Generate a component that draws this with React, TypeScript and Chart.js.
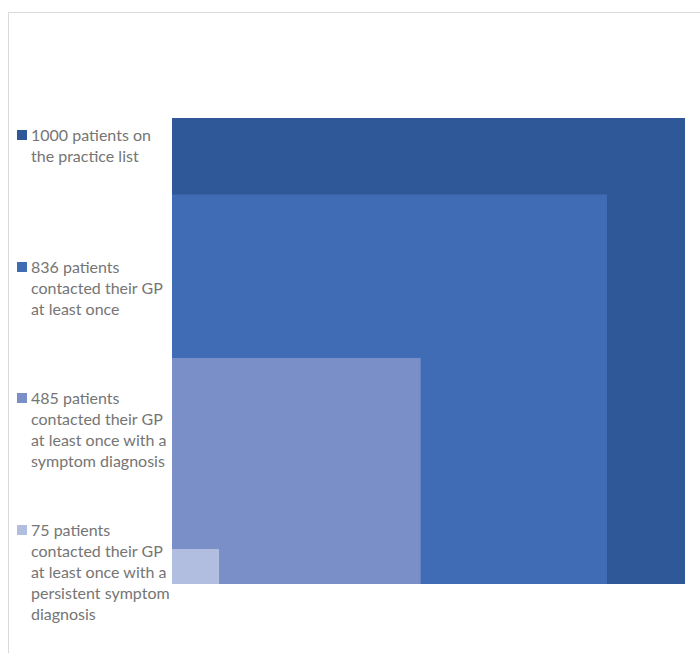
import React, { useEffect, useRef } from "react";
import { Chart, registerables } from "chart.js";

Chart.register(...registerables);

// Patient counts: each square's height is its count on a 0–1000 scale
const counts = [1000, 836, 485, 75];
// Horizontal extent of each square on the same 0–1000 scale
const widths = [1000, 848, 485, 92];
const legendLines = [
  ["1000 patients on", "the practice list"],
  ["836 patients", "contacted their GP", "at least once"],
  ["485 patients", "contacted their GP", "at least once with a", "symptom diagnosis"],
  ["75 patients", "contacted their GP", "at least once with a", "persistent symptom", "diagnosis"],
];
const colors = ["#2F5899", "#3F6CB4", "#7A8FC7", "#B2BEDF"];
// vertical centre of each legend entry's first line
const legendTops = [135, 267, 398, 530];

export default function App() {
  const canvasRef = useRef<HTMLCanvasElement | null>(null);

  useEffect(() => {
    const canvas = canvasRef.current;
    if (!canvas) return;
    const chart = new Chart(canvas, {
      type: "scatter",
      data: {
        datasets: counts.map((c, i) => ({
          label: legendLines[i].join(" "),
          data: [
            { x: 0, y: c },
            { x: widths[i], y: c },
          ],
          showLine: true,
          fill: "origin",
          backgroundColor: colors[i],
          borderColor: "rgba(0,0,0,0)",
          borderWidth: 0,
          pointRadius: 0,
          pointHoverRadius: 0,
          tension: 0,
          // larger squares drawn first so the smaller ones sit on top
          order: counts.length - i,
        })),
      },
      options: {
        animation: false,
        responsive: true,
        maintainAspectRatio: false,
        events: [],
        layout: { padding: 0 },
        plugins: {
          legend: { display: false },
          tooltip: { enabled: false },
          title: { display: false },
        },
        scales: {
          x: { type: "linear", min: 0, max: 1000, display: false },
          y: { type: "linear", min: 0, max: 1000, display: false },
        },
      },
    });
    return () => chart.destroy();
  }, []);

  return (
    <div
      style={{
        position: "fixed",
        left: 8,
        top: 12,
        right: -10,
        bottom: -10,
        borderLeft: "1px solid #d9d9d9",
        borderTop: "1px solid #d9d9d9",
        borderRight: "1px solid #d9d9d9",
        background: "#fff",
      }}
    >
      {legendLines.map((lines, i) => (
        <div
          key={i}
          style={{
            position: "absolute",
            left: 8,
            top: legendTops[i] - 12 - 10.5 - 2,
            display: "flex",
            alignItems: "flex-start",
          }}
        >
          <div
            style={{
              width: 10,
              height: 10,
              background: colors[i],
              marginTop: 6.5,
              marginRight: 4,
              flex: "none",
            }}
          />
          <div
            style={{
              fontFamily: "Lato, 'Open Sans', sans-serif",
              fontSize: 16,
              lineHeight: "21px",
              color: "#757575",
              whiteSpace: "nowrap",
            }}
          >
            {lines.map((t, j) => (
              <div key={j}>{t}</div>
            ))}
          </div>
        </div>
      ))}
      <div
        style={{
          position: "absolute",
          left: 172 - 8 - 1,
          top: 118 - 12 - 1,
          width: 513,
          height: 466,
        }}
      >
        <canvas ref={canvasRef} />
      </div>
    </div>
  );
}
